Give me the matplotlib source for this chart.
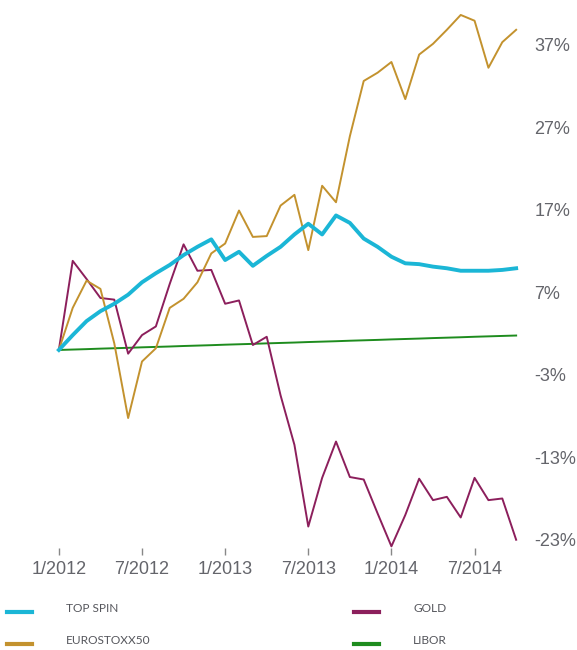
import matplotlib
matplotlib.use('Agg')
import matplotlib.pyplot as plt
from matplotlib.lines import Line2D
import numpy as np

# monthly returns (%), 1/2012 .. 10/2014
months = np.arange(34)
top_spin = [0, 1.8, 3.5, 4.7, 5.6, 6.7, 8.2, 9.3, 10.3, 11.5, 12.5, 13.4, 10.9, 11.9,
            10.2, 11.4, 12.5, 14.0, 15.3, 14.0, 16.3, 15.4, 13.5, 12.5, 11.3, 10.5,
            10.4, 10.1, 9.9, 9.6, 9.6, 9.6, 9.7, 9.9]
eurostoxx = [0, 5.1, 8.4, 7.4, 0.8, -8.25, -1.4, 0.2, 5.1, 6.2, 8.2, 11.7, 12.9, 16.9,
             13.7, 13.8, 17.5, 18.8, 12.1, 19.9, 17.9, 25.9, 32.6, 33.6, 34.9, 30.4,
             35.8, 37.1, 38.8, 40.6, 39.9, 34.2, 37.3, 38.8]
gold = [0, 10.8, 8.6, 6.3, 6.1, -0.45, 1.8, 2.85, 8.0, 12.8, 9.6, 9.7, 5.6, 6.0, 0.6,
        1.6, -5.5, -11.5, -21.4, -15.5, -11.1, -15.4, -15.7, -19.8, -23.8, -20.0,
        -15.6, -18.2, -17.8, -20.3, -15.5, -18.2, -18.0, -23.0]
libor = [0.00, 0.05, 0.10, 0.16, 0.21, 0.26, 0.32, 0.37, 0.42, 0.48, 0.53, 0.58, 0.64,
         0.69, 0.74, 0.80, 0.85, 0.90, 0.96, 1.01, 1.06, 1.12, 1.17, 1.22, 1.28, 1.33,
         1.38, 1.44, 1.49, 1.54, 1.60, 1.65, 1.70, 1.75]

x_ticks = [0, 6, 12, 18, 24, 30]
x_labels = ['1/2012', '7/2012', '1/2013', '7/2013', '1/2014', '7/2014']
y_ticks = [37, 27, 17, 7, -3, -13, -23]

c_top = '#1bb6d6'
c_euro = '#c3922e'
c_gold = '#8c1f5c'
c_libor = '#1e8c1e'
grey = '#64656b'

W, H = 577, 650
fig = plt.figure(figsize=(W / 100, H / 100), dpi=100)
ax = fig.add_axes([45 / W, 102 / H, 485 / W, 538 / H])

ax.plot(months, libor, color=c_libor, lw=1.4)
ax.plot(months, gold, color=c_gold, lw=1.4)
ax.plot(months, eurostoxx, color=c_euro, lw=1.4)
ax.plot(months, top_spin, color=c_top, lw=2.8)

ax.set_xlim(-1, 34)
ax.set_ylim(-24.0, 41.2)

for s in ax.spines.values():
    s.set_visible(False)

ax.set_xticks(x_ticks)
ax.set_xticklabels(x_labels, fontsize=13, family='Liberation Sans', color=grey)
ax.tick_params(axis='x', length=5, width=1, color='#888888', pad=4)

ax.yaxis.tick_right()
ax.set_yticks(y_ticks)
ax.set_yticklabels([f'{v}%' for v in y_ticks], fontsize=13,
                   family='Liberation Sans', color=grey)
ax.tick_params(axis='y', length=0, pad=3)

# legend
items = [('TOP SPIN', c_top, 7, 612), ('EUROSTOXX50', c_euro, 7, 644),
         ('GOLD', c_gold, 354, 612), ('LIBOR', c_libor, 354, 644)]
for name, col, px, py in items:
    yf = 1 - py / H
    fig.add_artist(Line2D([px / W, (px + 25) / W], [yf, yf], color=col, lw=3,
                          transform=fig.transFigure))
    fig.text((px + 59) / W, 1 - (py - 3) / H, name, fontsize=8.6, family='Lato',
             color='#55565c', va='center', ha='left')

fig.savefig('out.png', dpi=100)
